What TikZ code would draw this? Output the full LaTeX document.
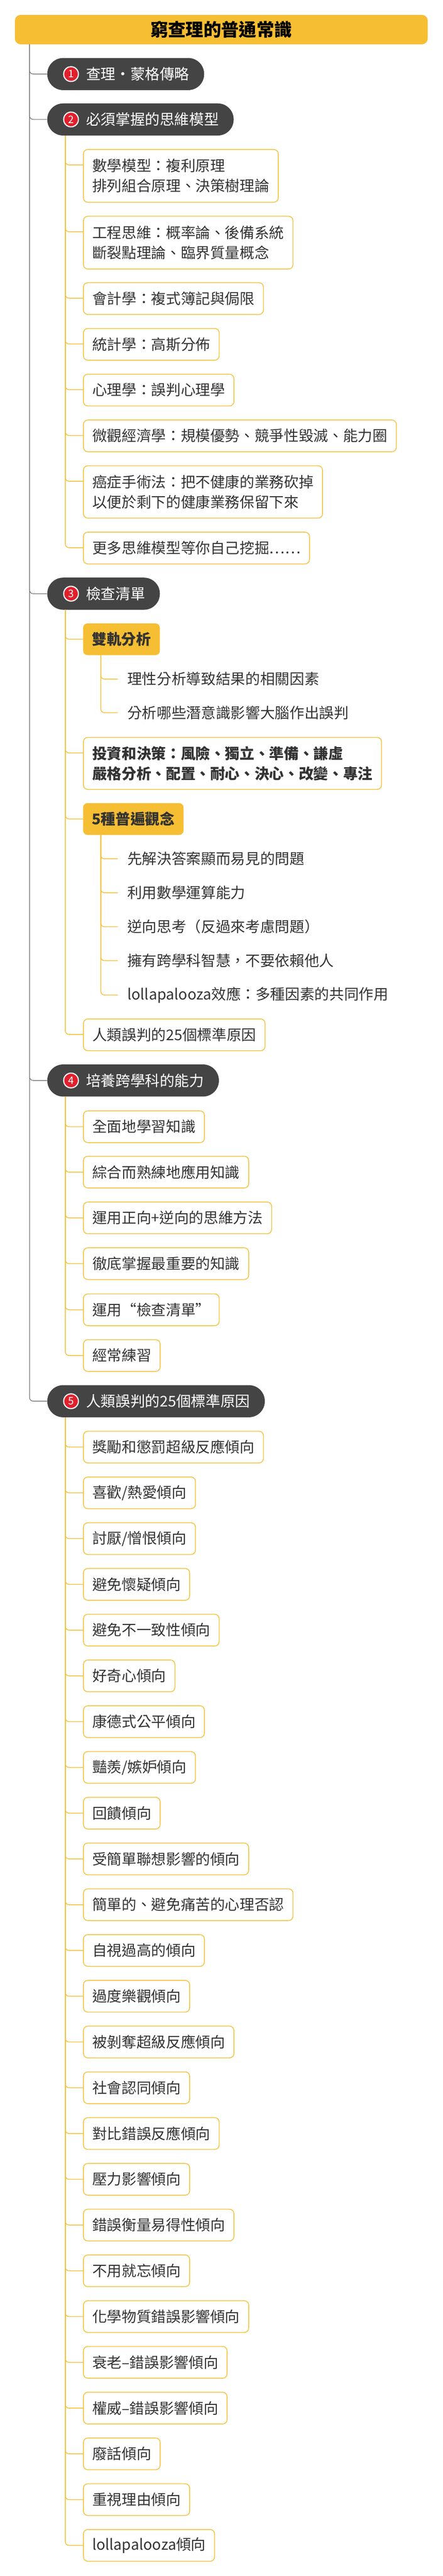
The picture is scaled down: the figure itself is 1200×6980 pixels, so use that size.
\documentclass[tikz,border=0pt]{standalone}
\usepackage{fontspec}
\setmainfont{Noto Sans CJK TC}
\usepackage{tikz}
\usetikzlibrary{positioning}
\definecolor{mmyellow}{HTML}{F6BE32}
\definecolor{mmdark}{HTML}{444444}
\definecolor{mmtext}{HTML}{333333}
\definecolor{mmgray}{HTML}{666666}
\definecolor{mmred}{HTML}{E21F2C}

\begin{document}
\begin{tikzpicture}
[
x=1pt, y=-1pt,
every node/.style={font=\fontsize{40}{55}\selectfont, text=mmtext},
headbox/.style={anchor=north west, fill=mmyellow, rounded corners=16pt, minimum width=1119pt, minimum height=80pt, font=\fontsize{48}{56}\selectfont\bfseries, text=black},
topic/.style={anchor=north west, fill=mmdark, rounded corners=43pt, minimum height=87pt, inner xsep=40pt, text=white},
badge/.style={circle, fill=mmred, draw=white, line width=3pt, minimum size=40pt, inner sep=0pt, font=\fontsize{28}{28}\selectfont, text=white},
item/.style={anchor=north west, draw=mmyellow, line width=2pt, fill=white, rounded corners=12pt, minimum height=86pt, inner xsep=24pt, align=left},
tag/.style={anchor=north west, fill=mmyellow, rounded corners=12pt, minimum height=86pt, inner xsep=24pt, font=\fontsize{40}{55}\selectfont\bfseries},
leaf/.style={anchor=west, inner sep=0pt},
trunk/.style={draw=mmgray, line width=1.5pt, rounded corners=10pt},
branch/.style={draw=mmyellow, line width=2pt, rounded corners=10pt}
]
\useasboundingbox (0,0) rectangle (1200,6980);

%Nodes
\node[headbox]  (title) at (40,40)   {窮查理的普通常識};

\node[topic]    (n1)    at (128,157)  {\hspace*{65pt}查理·蒙格傳略};
\node[topic]    (n2)    at (128,280)  {\hspace*{65pt}必須掌握的思維模型};
\node[topic]    (n3)    at (128,1565) {\hspace*{65pt}檢查清單};
\node[topic]    (n4)    at (128,2884) {\hspace*{65pt}培養跨學科的能力};
\node[topic]    (n5)    at (128,3753) {\hspace*{65pt}人類誤判的25個標準原因};
\node[badge]    (b1)    [right=43pt of n1.west] {1};
\node[badge]    (b2)    [right=43pt of n2.west] {2};
\node[badge]    (b3)    [right=43pt of n3.west] {3};
\node[badge]    (b4)    [right=43pt of n4.west] {4};
\node[badge]    (b5)    [right=43pt of n5.west] {5};

\node[item, minimum height=143pt] (m1) at (225,404)  {數學模型：複利原理\\排列組合原理、決策樹理論};
\node[item, minimum height=143pt] (m2) at (225,585)  {工程思維：概率論、後備系統\\斷裂點理論、臨界質量概念};
\node[item]     (m3)    at (225,765)  {會計學：複式簿記與侷限};
\node[item]     (m4)    at (225,889)  {統計學：高斯分佈};
\node[item]     (m5)    at (225,1013) {心理學：誤判心理學};
\node[item]     (m6)    at (225,1137) {微觀經濟學：規模優勢、競爭性毀滅、能力圈};
\node[item, minimum height=142pt] (m7) at (225,1261) {癌症手術法：把不健康的業務砍掉\\以便於剩下的健康業務保留下來};
\node[item]     (m8)    at (225,1441) {更多思維模型等你自己挖掘……};

\node[tag]      (ss1)   at (225,1689) {雙軌分析};
\node[leaf]     (l1)    at (345,1840) {理性分析導致結果的相關因素};
\node[leaf]     (l2)    at (345,1931) {分析哪些潛意識影響大腦作出誤判};
\node[item, minimum height=141pt, font=\fontsize{40}{55}\selectfont\bfseries] (ss2) at (225,1997) {投資和決策：風險、獨立、準備、謙虛\\嚴格分析、配置、耐心、決心、改變、專注};
\node[tag]      (ss3)   at (225,2176) {5種普遍觀念};
\node[leaf]     (l3)    at (345,2327) {先解決答案顯而易見的問題};
\node[leaf]     (l4)    at (345,2419) {利用數學運算能力};
\node[leaf]     (l5)    at (345,2511) {逆向思考（反過來考慮問題）};
\node[leaf]     (l6)    at (345,2603) {擁有跨學科智慧，不要依賴他人};
\node[leaf]     (l7)    at (345,2696) {lollapalooza效應：多種因素的共同作用};
\node[item]     (ss4)   at (225,2760) {人類誤判的25個標準原因};

\node[item]     (k1)    at (225,3009) {全面地學習知識};
\node[item]     (k2)    at (225,3132) {綜合而熟練地應用知識};
\node[item]     (k3)    at (225,3256) {運用正向+逆向的思維方法};
\node[item]     (k4)    at (225,3380) {徹底掌握最重要的知識};
\node[item]     (k5)    at (225,3505) {運用“檢查清單”};
\node[item]     (k6)    at (225,3629) {經常練習};

\node[item]     (r1)    at (225,3877) {獎勵和懲罰超級反應傾向};
\node[item]     (r2)    at (225,4001) {喜歡/熱愛傾向};
\node[item]     (r3)    at (225,4125) {討厭/憎恨傾向};
\node[item]     (r4)    at (225,4249) {避免懷疑傾向};
\node[item]     (r5)    at (225,4373) {避免不一致性傾向};
\node[item]     (r6)    at (225,4497) {好奇心傾向};
\node[item]     (r7)    at (225,4621) {康德式公平傾向};
\node[item]     (r8)    at (225,4745) {豔羨/嫉妒傾向};
\node[item]     (r9)    at (225,4869) {回饋傾向};
\node[item]     (r10)   at (225,4993) {受簡單聯想影響的傾向};
\node[item]     (r11)   at (225,5117) {簡單的、避免痛苦的心理否認};
\node[item]     (r12)   at (225,5241) {自視過高的傾向};
\node[item]     (r13)   at (225,5365) {過度樂觀傾向};
\node[item]     (r14)   at (225,5489) {被剝奪超級反應傾向};
\node[item]     (r15)   at (225,5613) {社會認同傾向};
\node[item]     (r16)   at (225,5737) {對比錯誤反應傾向};
\node[item]     (r17)   at (225,5861) {壓力影響傾向};
\node[item]     (r18)   at (225,5985) {錯誤衡量易得性傾向};
\node[item]     (r19)   at (225,6109) {不用就忘傾向};
\node[item]     (r20)   at (225,6233) {化學物質錯誤影響傾向};
\node[item]     (r21)   at (225,6357) {衰老–錯誤影響傾向};
\node[item]     (r22)   at (225,6481) {權威–錯誤影響傾向};
\node[item]     (r23)   at (225,6605) {廢話傾向};
\node[item]     (r24)   at (225,6729) {重視理由傾向};
\node[item]     (r25)   at (225,6853) {lollapalooza傾向};

%Lines
\foreach \t in {n1,n2,n3,n4,n5}
  \draw[trunk] ([xshift=-48pt]n1.west |- title.south) |- (\t.west);
\foreach \c in {m1,m2,m3,m4,m5,m6,m7,m8}
  \draw[branch] ([xshift=49pt]n2.south west) |- ([yshift=-43pt]\c.north west);
\foreach \c in {ss1,ss2,ss3,ss4}
  \draw[branch] ([xshift=49pt]n3.south west) |- ([yshift=-43pt]\c.north west);
\foreach \c in {l1,l2}
  \draw[branch] ([xshift=48pt]ss1.south west) |- ([xshift=-26pt]\c.west);
\foreach \c in {l3,l4,l5,l6,l7}
  \draw[branch] ([xshift=48pt]ss3.south west) |- ([xshift=-26pt]\c.west);
\foreach \c in {k1,k2,k3,k4,k5,k6}
  \draw[branch] ([xshift=49pt]n4.south west) |- (\c.west);
\foreach \c in {r1,r2,r3,r4,r5,r6,r7,r8,r9,r10,r11,r12,r13,r14,r15,r16,r17,r18,r19,r20,r21,r22,r23,r24,r25}
  \draw[branch] ([xshift=49pt]n5.south west) |- (\c.west);
\end{tikzpicture}
\end{document}
